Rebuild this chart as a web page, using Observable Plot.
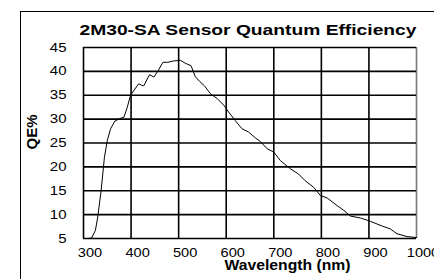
<!DOCTYPE html>
<html><head><meta charset="utf-8">
<script src="https://cdn.jsdelivr.net/npm/d3@7"></script>
<script src="https://cdn.jsdelivr.net/npm/@observablehq/plot@0.6"></script>
<style>
html,body{margin:0;padding:0;background:#fff;}
#wrap{position:relative;width:434px;height:279px;overflow:hidden;}
#frame{position:absolute;left:20px;top:11px;width:600px;height:600px;border-left:1.5px solid #000;border-top:1.5px solid #000;}
#chart{position:absolute;left:0;top:0;}
</style></head><body>
<div id="wrap"><div id="frame"></div><div id="chart"></div></div>
<script>
const wavelengths = [300, 310, 317, 325, 330, 337, 344, 350, 357, 366, 376, 385, 392, 399, 408, 416, 422, 427, 434, 439, 448, 456, 467, 477, 490, 504, 514, 526, 535, 544, 554, 567, 581, 595, 605, 619, 633, 647, 661, 672, 686, 700, 714, 735, 752, 766, 784, 798, 812, 833, 847, 861, 882, 903, 928, 945, 959, 980, 1000];
const qe = [5.0, 5.0, 5.1, 6.7, 9.5, 15, 22, 25.5, 28, 29.6, 30.1, 30.4, 32.5, 35, 36.3, 37.4, 37.1, 37.0, 38.4, 39.3, 38.8, 40, 41.9, 41.9, 42.2, 42.3, 41.7, 41.2, 38.9, 37.9, 37, 35.3, 34.3, 32.9, 31.5, 29.7, 28, 27.3, 26.1, 25.3, 23.8, 23.1, 21.3, 19.6, 18.5, 17.1, 15.7, 14, 13.5, 11.9, 10.9, 9.7, 9.3, 8.6, 7.6, 7.0, 6.0, 5.4, 5.2];
const xTicks = [300, 400, 500, 600, 700, 800, 900, 1000];
const yTicks = [5, 10, 15, 20, 25, 30, 35, 40, 45];
const title = "2M30-SA Sensor Quantum Efficiency";
const xLabel = "Wavelength (nm)";
const yLabel = "QE%";

const data = wavelengths.map((w, i) => ({w, q: qe[i]}));
const font = "'Liberation Sans', Arial, sans-serif";

const chart = Plot.plot({
  width: 434, height: 279,
  marginLeft: 83, marginRight: 18, marginTop: 47, marginBottom: 41,
  style: {fontFamily: font, background: "transparent", color: "#000", overflow: "visible"},
  x: {domain: [300, 1000]},
  y: {domain: [5, 45]},
  marks: [
    Plot.ruleX(xTicks, {stroke: d => d === 1000 ? "#777" : "#000", strokeWidth: 1.6}),
    Plot.ruleY(yTicks, {stroke: "#000", strokeWidth: 1.6}),
    Plot.line(data, {x: "w", y: "q", stroke: "#000", strokeWidth: 1}),
    Plot.axisX({ticks: xTicks, tickSize: 0, tickPadding: 9, dx: 6.5, fontSize: 13.5, label: null, tickFormat: d => String(d)}),
    Plot.axisY({ticks: yTicks, tickSize: 0, tickPadding: 17, fontSize: 12.5, label: null, tickFormat: d => String(d)}),
    Plot.text([title], {text: d => d, frameAnchor: "top", lineAnchor: "bottom", dy: -12.7, dx: -2, fontSize: 15.5, fontWeight: "bold"}),
    Plot.text([xLabel], {text: d => d, frameAnchor: "bottom", lineAnchor: "bottom", dy: 31, dx: 37.5, fontSize: 14, fontWeight: "bold"}),
    Plot.text([yLabel], {text: d => d, frameAnchor: "left", lineAnchor: "middle", rotate: -90, dx: -51.3, dy: 6.5, fontSize: 14.5, fontWeight: "bold"})
  ]
});
document.getElementById("chart").append(chart);

// horizontal stretch of text to mimic the reference's wide glyphs
chart.querySelectorAll("text").forEach(t => {
  const s = t.textContent;
  const g = t.closest("g[aria-label]");
  const role = g ? g.getAttribute("aria-label") : "";
  const w = t.getComputedTextLength();
  let target = null;
  if (s === title) target = 337;
  else if (s === xLabel) target = 126;
  else if (s === yLabel) target = 35;
  else if (role.startsWith("y-axis")) target = w * 1.2;
  else if (role.startsWith("x-axis")) target = w * 1.08;
  if (target) {
    t.setAttribute("textLength", target);
    t.setAttribute("lengthAdjust", "spacingAndGlyphs");
  }
});
</script>
</body></html>
